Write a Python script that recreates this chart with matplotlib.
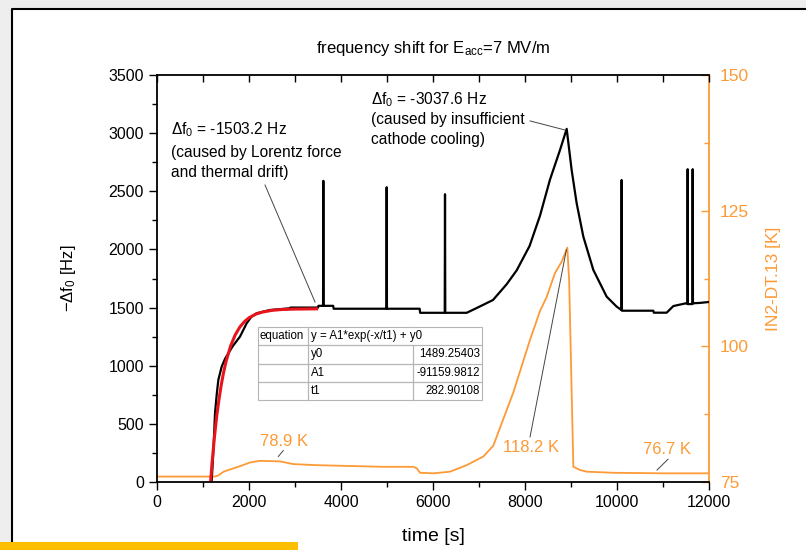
import matplotlib
matplotlib.use('Agg')
import matplotlib.pyplot as plt
from matplotlib.patches import Rectangle
from matplotlib.lines import Line2D

plt.rcParams['font.family'] = ['Liberation Sans', 'DejaVu Sans']
plt.rcParams['mathtext.fontset'] = 'custom'
plt.rcParams['mathtext.rm'] = 'Liberation Sans'
plt.rcParams['mathtext.it'] = 'Liberation Sans:italic'

ORANGE = '#fd9a35'

# frequency shift (black)
t_freq = [1188, 1230, 1261, 1300, 1333, 1406, 1480, 1551, 1650, 1804, 1949, 2050,
          2167, 2457, 2891, 2900, 3500, 3510, 3610, 3616, 3622, 3830, 3840, 4987,
          4993, 4999, 5710, 5720, 6255, 6261, 6267, 6500, 6732, 6949, 7304, 7600,
          7819, 8100, 8326, 8543, 8761, 8906, 9014, 9123, 9268, 9486, 9775, 9993,
          10095, 10101, 10107, 10790, 10800, 11080, 11225, 11500, 11530, 11536,
          11542, 11639, 11645, 11651, 11800, 12000]
df_freq = [0, 300, 591, 760, 877, 992, 1060, 1107, 1170, 1250, 1365, 1420,
           1451, 1479, 1494, 1500, 1500, 1515, 1515, 2590, 1515, 1515, 1490, 1490,
           2535, 1490, 1490, 1455, 1455, 2475, 1455, 1455, 1455, 1496, 1565, 1700,
           1820, 2030, 2290, 2600, 2855, 3037, 2683, 2397, 2110, 1823, 1594, 1508,
           1479, 2597, 1473, 1473, 1456, 1456, 1513, 1537, 1530, 2690,
           1530, 1530, 2690, 1537, 1540, 1548]

# exponential fit (red)
t_fit = [1165, 1200, 1250, 1300, 1350, 1400, 1450, 1500, 1600, 1700, 1800, 1900,
         2000, 2150, 2300, 2500, 2700, 3000, 3470]
df_fit = [0, 179, 391, 574, 717, 843, 947, 1035, 1170, 1265, 1332, 1379,
          1412, 1444, 1462, 1476, 1483, 1487, 1489]

# temperature IN2-DT.13 (orange)
t_temp = [0, 1250, 1330, 1450, 1550, 1800, 2022, 2239, 2674, 2964, 3471, 4196,
          4920, 5572, 5650, 5717, 6007, 6370, 6732, 7094, 7311, 7746, 8109, 8326,
          8471, 8652, 8797, 8920, 8960, 9051, 9200, 9341, 9920, 11000, 12000]
temp = [76.0, 76.0, 76.2, 76.9, 77.2, 77.9, 78.6, 78.9, 78.8, 78.3, 78.1, 77.95,
        77.8, 77.8, 77.5, 76.7, 76.6, 76.9, 78.1, 79.7, 81.7, 91.5, 101.2, 106.5,
        109.1, 113.5, 115.6, 118.2, 112.0, 77.8, 77.2, 76.9, 76.7, 76.6, 76.6]

fit_rows = [['equation', 'y = A1*exp(-x/t1) + y0', ''],
            ['', 'y0', '1489.25403'],
            ['', 'A1', '-91159.9812'],
            ['', 't1', '282.90108']]

fig = plt.figure(figsize=(8.06, 5.5), dpi=100)
fig.patch.set_facecolor('#eeeeee')
fig.patches.append(Rectangle((12 / 806, 0), 1, 1 - 9 / 550, transform=fig.transFigure,
                             facecolor='white', edgecolor='none', zorder=-5))
fig.lines.append(Line2D([12 / 806, 12 / 806, 1], [0, 1 - 9 / 550, 1 - 9 / 550],
                        transform=fig.transFigure, color='black', lw=1.5, zorder=-4))
fig.patches.append(Rectangle((0, 0), 298 / 806, 8 / 550, transform=fig.transFigure,
                             facecolor='#fbbf00', edgecolor='none'))

ax = fig.add_axes([157 / 806, 1 - 482 / 550, 552 / 806, 407 / 550])
ax2 = ax.twinx()
ax.set_zorder(ax2.get_zorder() + 1)
ax.set_facecolor('none')
ax2.set_facecolor('none')

ax2.plot(t_temp, temp, color=ORANGE, lw=1.3)
ax2.set_ylim(75, 150)
ax2.set_yticks([75, 100, 125, 150])
ax2.set_yticks([87.5, 112.5, 137.5], minor=True)
ax2.tick_params(axis='y', which='both', direction='in', colors=ORANGE, labelsize=12.5)
ax2.tick_params(axis='y', which='major', length=6, width=1, pad=8)
ax2.tick_params(axis='y', which='minor', length=3.5, width=1)
ax2.spines['right'].set_color(ORANGE)
ax2.spines['right'].set_linewidth(1.3)
for s in ['top', 'left', 'bottom']:
    ax2.spines[s].set_visible(False)
ax2.set_ylabel('IN2-DT.13 [K]', color=ORANGE, fontsize=12.5, labelpad=12)

ax.plot(t_freq, df_freq, color='black', lw=1.6)
ax.plot(t_fit, df_fit, color='#e8141c', lw=2.2)
ax.set_xlim(0, 12000)
ax.set_ylim(0, 3500)
ax.set_xticks(range(0, 12001, 2000))
ax.set_xticks(range(1000, 12000, 2000), minor=True)
ax.set_yticks(range(0, 3501, 500))
ax.set_yticks(range(250, 3500, 500), minor=True)
ax.tick_params(which='both', direction='out', labelsize=11.5, width=1)
ax.tick_params(which='major', length=6)
ax.tick_params(which='minor', length=3.5)
for s in ['top', 'left', 'bottom']:
    ax.spines[s].set_linewidth(1.3)
ax.spines['right'].set_visible(False)
secx = ax.secondary_xaxis('top')
secx.set_xticks(range(0, 12001, 1000))
secx.tick_params(direction='in', length=5, width=1, labeltop=False)
secx.spines['top'].set_visible(False)

ax.set_xlabel('time [s]', fontsize=14, labelpad=13)
ax.set_ylabel(r'$-\Delta$f$_0$ [Hz]', fontsize=12, labelpad=22)
ax.set_title(r'frequency shift for E$_\mathrm{acc}$=7 MV/m', fontsize=12, pad=16)

# annotations
ax.text(300, 3027, r'$\Delta$f$_0$ = -1503.2 Hz', fontsize=11.2, va='center')
ax.text(300, 2900, '(caused by Lorentz force\nand thermal drift)', fontsize=11.2,
        va='top', linespacing=1.4)
ax.plot([2348, 3435], [2554, 1548], color='#444444', lw=0.7)
ax.text(4650, 3285, r'$\Delta$f$_0$ = -3037.6 Hz', fontsize=11.2, va='center')
ax.text(4650, 3180, '(caused by insufficient\ncathode cooling)', fontsize=11.2,
        va='top', linespacing=1.4)
ax.plot([8109, 8870], [3105, 3027], color='#444444', lw=0.7)

ax2.text(2760, 82.4, '78.9 K', color=ORANGE, fontsize=12, ha='center', va='center')
ax2.plot([2637, 2746], [79.7, 80.8], color='#444444', lw=0.7)
ax2.text(8140, 81.3, '118.2 K', color=ORANGE, fontsize=12, ha='center', va='center')
ax2.plot([8109, 8900], [83.3, 117.8], color='#444444', lw=0.7)
ax2.text(11087, 80.9, '76.7 K', color=ORANGE, fontsize=12, ha='center', va='center')
ax2.plot([10870, 11109], [77.2, 79.2], color='#444444', lw=0.7)

tbl = ax.table(cellText=fit_rows, cellLoc='left', colWidths=[0.0906, 0.1902, 0.125],
               bbox=[0.183, 0.2015, 0.4058, 0.1793])
tbl.auto_set_font_size(False)
tbl.set_fontsize(8.3)
for (r, c), cell in tbl.get_celld().items():
    cell.set_edgecolor('#b5b5b5')
    cell.set_facecolor('none')
    cell.set_linewidth(0.8)
    cell.PAD = 0.03
    if c == 2:
        cell.get_text().set_ha('right')
        cell._loc = 'right'
tbl[0, 1].visible_edges = 'BTL'
tbl[0, 2].visible_edges = 'BTR'

fig.savefig('out.png', dpi=100)
